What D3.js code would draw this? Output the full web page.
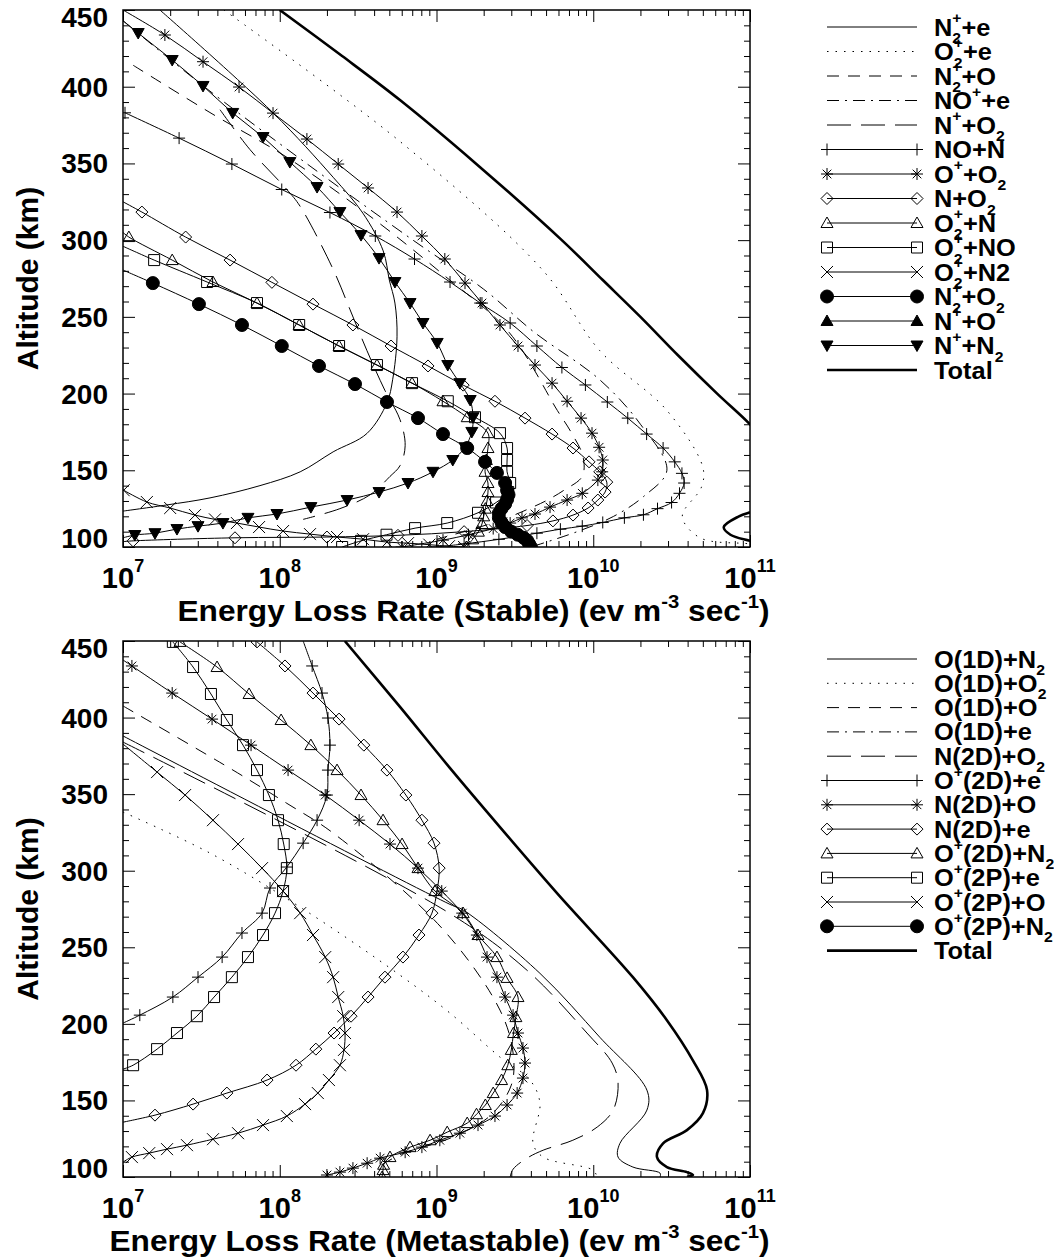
<!DOCTYPE html>
<html>
<head>
<meta charset="utf-8">
<script src="https://cdn.jsdelivr.net/npm/d3@7"></script>
<style>
  body { margin: 0; background: #fff; }
  svg { display: block; }
  text { font-family: "Liberation Sans", Arial, Helvetica, sans-serif; font-weight: bold; fill: #000; white-space: pre; }
</style>
</head>
<body>
<svg id="chart" width="1054" height="1259"></svg>
<script>
// ---------------------------------------------------------------------------
// Data: each profile is a list of [altitude (km), energy loss rate (eV m^-3 s^-1)]
// Points lying on the frame (rate 1e7 or altitude 450) only anchor the line;
// markers are drawn at the interior points.
// ---------------------------------------------------------------------------
const altitudeTicks = [100, 150, 200, 250, 300, 350, 400, 450];
const altitudeTickLabels = ["100", "150", "200", "250", "300", "350", "400", "450"];
const rateTicks = [1e7, 1e8, 1e9, 1e10, 1e11];
const rateTickLabels = ["10{^7}", "10{^8}", "10{^9}", "10{^10}", "10{^11}"];

// ---- Stable species ----
const n2pE = [[450,1.72e7],[383,9.06e7],[341,2.19e8],[317.6,3.39e8],[293,4.57e8],[274,5.0e8],[259,5.43e8],[237,5.6e8],[209,5.25e8],[194,4.83e8],[174,3.6e8],[162,2.19e8],[149,1.35e8],[140,7.48e7],[132,3.59e7],[127.4,1.9e7],[123.4,1.0e7]];
const o2pE = [[450,4.4e7],[364,5.9e8],[280,4.8e9],[228,1.1e10],[189,2.95e10],[152,5.0e10],[139,4.9e10],[120,3.7e10],[106,4.8e10],[102,1.0e11],[100,1.3e11]];
const n2pO = [[414,1.16e7],[382,3.75e7],[354,1.11e8],[313,4.07e8],[276,1.15e9],[240,2.9e9],[189,5.9e9],[174,7.3e9],[159,8.6e9],[146,8.5e9],[137,6.5e9],[130.6,5.1e9],[126,4.1e9],[117,2.5e9],[105,1.0e9]];
const nopE = [[443,1.0e7],[400,3.3e7],[350,1.48e8],[300,7.08e8],[268,2.0e9],[240,4.2e9],[209,1.1e10],[180,2.0e10],[150,2.95e10],[133,2.1e10],[120,1.35e10],[110,7.9e9],[100,4.0e9]];
const npO2 = [[385,4.16e7],[359,6.46e7],[333,1.11e8],[322,1.35e8],[281,2.19e8],[255,2.8e8],[228,3.6e8],[202,4.69e8],[183,5.85e8],[166,6.31e8],[153,5.85e8],[146,5.05e8],[134,3.77e8],[125,2.42e8],[118,1.41e8]];
const noN = [[383,1.03e7],[366.5,2.28e7],[349.6,4.95e7],[333,1.03e8],[318,2.09e8],[302.7,4.07e8],[287.7,7.24e8],[272.7,1.22e9],[259,1.9e9],[246,2.95e9],[231,4.37e9],[217,6.31e9],[205.6,8.91e9],[194.5,1.23e10],[184,1.66e10],[173.6,2.19e10],[164.5,2.79e10],[155.5,3.31e10],[148,3.68e10],[141.7,3.8e10],[135,3.55e10],[129,3.16e10],[125,2.57e10],[121,2.09e10],[119,1.58e10],[116,1.15e10],[113.6,8.51e9],[111.6,6.17e9],[109,4.37e9],[105,2.5e9],[102,1.5e9],[100,1.0e9]];
const opO2 = [[450,1.0e7],[433.7,1.85e7],[416.3,3.24e7],[399.8,5.5e7],[382.8,9.06e7],[365.9,1.49e8],[349.6,2.36e8],[334,3.66e8],[318.3,5.6e8],[302.7,8.07e8],[287.7,1.13e9],[272,1.52e9],[259,1.95e9],[244.7,2.54e9],[231,3.31e9],[218.6,4.25e9],[206.8,5.46e9],[195,6.81e9],[184,8.36e9],[174.2,9.82e9],[165,1.09e10],[156.7,1.15e10],[149,1.14e10],[143.6,1.07e10],[135,8.51e9],[130.6,6.81e9],[126,5.3e9],[121.5,4.25e9],[119,3.51e9],[115.6,2.95e9],[112,2.3e9],[108,1.6e9],[104.5,1.1e9],[100,6e8]];
const nO2 = [[325,1.0e7],[318.3,1.32e7],[302,2.51e7],[287,4.82e7],[272.5,8.91e7],[258.3,1.63e8],[244.7,2.93e8],[231,5.13e8],[218,8.83e8],[205.5,1.48e9],[195,2.36e9],[184,3.67e9],[173.6,5.46e9],[164.5,7.43e9],[155.5,9.4e9],[149,1.1e10],[142.3,1.22e10],[135.8,1.19e10],[130.6,1.07e10],[125.4,9.27e9],[120.8,7.43e9],[117,5.53e9],[114,3.78e9],[110,1.5e9],[107.6,5.68e8],[106.5,2.0e8],[106,5.18e7],[104,1.16e7],[103.5,1.0e7]];
const o2pN = [[305,1.0e7],[302,1.09e7],[287,2.06e7],[272.7,3.75e7],[259,7.16e7],[244.7,1.33e8],[231,2.39e8],[218.6,4.17e8],[206.8,6.98e8],[195,1.1e9],[184.6,1.57e9],[174.2,2.13e9],[164.5,2.13e9],[156.7,2.08e9],[149,2.04e9],[141.7,2.13e9],[135.8,2.13e9],[130,2.1e9],[125,2.05e9],[120,2.0e9],[115,1.95e9],[110,1.85e9],[105,1.7e9],[100,1.55e9]];
const o2pNO = [[296,1.0e7],[287,1.58e7],[272.7,3.44e7],[259,7.16e7],[244.7,1.33e8],[231,2.39e8],[218.6,4.17e8],[206.8,6.98e8],[195,1.18e9],[184.6,1.76e9],[174.2,2.54e9],[164.5,2.82e9],[156.7,2.82e9],[149,2.82e9],[141.7,2.95e9],[135.8,2.87e9],[129,2.4e9],[122.3,1.84e9],[115.6,1.17e9],[112.3,7.3e8],[108,4.8e8],[104,3.3e8],[100,2.5e8]];
const o2pN2 = [[137,1.01e7],[129.3,1.42e7],[125.4,2.0e7],[120.8,2.88e7],[118,3.86e7],[115.6,5.33e7],[113,7.38e7],[110.4,1.05e8],[108.4,1.56e8],[106.5,2.32e8],[105.1,3.4e8],[103.2,4.83e8],[102.5,6.58e8],[101.5,9e8],[100.5,1.2e9],[100,1.5e9]];
const n2pO2 = [[280.5,1.0e7],[272,1.55e7],[258.3,3.05e7],[244.7,5.74e7],[231,1.03e8],[218,1.78e8],[206.2,3.02e8],[194.5,4.83e8],[184,7.62e8],[173.6,1.1e9],[164.5,1.57e9],[155.5,2.04e9],[148.3,2.43e9],[141.7,2.74e9],[137,2.82e9],[134,2.88e9],[131,2.82e9],[128,2.74e9],[125,2.6e9],[122,2.5e9],[119,2.5e9],[116,2.6e9],[113,2.74e9],[110,3.0e9],[108,3.3e9],[106,3.6e9],[104,3.8e9],[102,3.9e9],[100,4.0e9]];
const npO = [];
const npN2 = [[443,1.0e7],[435,1.25e7],[417.4,2.06e7],[400.5,3.24e7],[382.9,5.01e7],[367.2,7.82e7],[350.9,1.16e8],[334.6,1.73e8],[318.3,2.42e8],[303.3,3.3e8],[288.3,4.3e8],[272.7,5.43e8],[259,6.78e8],[246,8.2e8],[233,1.01e9],[218.6,1.18e9],[206.8,1.41e9],[195.8,1.64e9],[184.6,1.71e9],[175,1.68e9],[165,1.52e9],[156.7,1.27e9],[149,9.5e8],[141.7,6.58e8],[135.8,4.3e8],[130.6,2.69e8],[126,1.58e8],[121.5,9.6e7],[119,6.27e7],[115.6,4.34e7],[113.6,3.01e7],[111.7,2.21e7],[109,1.6e7],[107.8,1.19e7],[106,1.0e7]];
const totalStable = [[450,1.0e8],[420,2.5e8],[391,5.9e8],[350,1.78e9],[300,6.3e9],[274,1.15e10],[250,2.0e10],[225,3.47e10],[200,6.17e10],[180,1.0e11],[160,1.5e11],[140,1.7e11],[125,1.15e11],[120,8.5e10],[113,6.8e10],[108,7.5e10],[104,1.0e11],[100,1.4e11]];

// ---- Metastable species ----
const o1dN2 = [[388,1.0e7],[278,1.22e9],[274.3,1.48e9],[233,4.57e9],[191.3,1.1e10],[156.7,2.2e10],[143.7,2.2e10],[122,1.48e10],[113,1.44e10],[106.5,1.79e10],[102.5,2.67e10],[100,2.67e10]];
const o1dO2 = [[338.3,1.0e7],[311.5,3.59e7],[276.2,1.35e8],[231.8,5.85e8],[207,1.22e9],[178.3,2.54e9],[163.3,3.95e9],[148.3,4.57e9],[122,4.13e9],[113,4.79e9],[104.5,9.95e9],[100,1.06e10]];
const o1dO = [[407.6,1.0e7],[365.7,5.03e7],[344,1.11e8],[324.6,2.19e8],[262.6,1.08e9],[209,2.54e9],[181,3.08e9],[160,3.0e9],[140,2.2e9],[125,1.2e9],[115,6e8],[105,4e8]];
const o1dE = [];
const n2dO2 = [[384,1.0e7],[272,1.22e9],[235,3.78e9],[194,9.12e9],[174.4,1.32e10],[161.4,1.44e10],[143.7,1.34e10],[132.6,1.06e10],[124,7.41e9],[117.5,4.79e9],[112.3,3.78e9],[105.1,3.08e9],[100,2.95e9]];
const op2dE = [[450,1.41e8],[433.7,1.61e8],[416,1.86e8],[399.7,2.03e8],[382,2.09e8],[365.7,2.03e8],[349.4,2.0e8],[333,1.73e8],[318,1.41e8],[302.4,1.11e8],[288.7,8.67e7],[272.3,7.71e7],[259.3,5.74e7],[243.6,4.29e7],[230.5,3.01e7],[217.5,2.08e7],[205.7,1.28e7],[200.5,1.0e7]];
const n2dO = [[437.6,1.0e7],[433.7,1.14e7],[416,2.06e7],[399,3.7e7],[382,6.56e7],[365.7,1.13e8],[349.4,1.95e8],[333,3.21e8],[317.4,5.05e8],[301.7,7.62e8],[286.7,1.08e9],[272.3,1.46e9],[258,1.81e9],[243.6,2.1e9],[230.5,2.43e9],[217.5,2.74e9],[205.7,3.08e9],[194,3.31e9],[184.2,3.56e9],[174.4,3.67e9],[164.6,3.56e9],[154.8,3.27e9],[147,2.82e9],[139.8,2.36e9],[133.9,1.84e9],[128.6,1.41e9],[124,1.05e9],[119.5,8.07e8],[116.2,6.31e8],[112.3,4.37e8],[109,3.61e8],[105.8,2.93e8],[103.2,2.42e8],[101.3,2.0e8]];
const n2dE = [[449.4,7.16e7],[433.7,1.08e8],[416,1.63e8],[399,2.39e8],[382,3.44e8],[365.7,4.83e8],[349.4,6.38e8],[333,8.07e8],[318,9.64e8],[301.7,1.04e9],[287.4,1.01e9],[272.3,9.35e8],[258,7.73e8],[243.6,6.11e8],[230.5,4.69e8],[217.5,3.66e8],[205,2.85e8],[194,2.22e8],[183.5,1.7e8],[173,1.27e8],[163.3,8.3e7],[154.8,4.6e7],[147.6,2.8e7],[140.4,1.6e7],[135.8,1.0e7]];
const op2dN2 = [[449.4,2.31e7],[433,3.98e7],[415.4,6.37e7],[398.4,1.02e8],[382,1.58e8],[365.7,2.32e8],[349.4,3.3e8],[333,4.56e8],[317.4,6.03e8],[301.7,7.62e8],[286.7,9.77e8],[272.3,1.48e9],[258,1.84e9],[243.6,2.43e9],[230,2.82e9],[217.5,3.31e9],[204.4,3.21e9],[194,3.1e9],[183,3.0e9],[173,2.85e9],[163.3,2.6e9],[154.8,2.3e9],[147,2.05e9],[141,1.8e9],[135.2,1.57e9],[129.3,1.17e9],[124,9.1e8],[119.5,6.78e8],[113,5.05e8],[108,4.6e8],[104.5,4.56e8],[100,4.5e8]];
const op2pE = [[449.4,2.08e7],[433,2.8e7],[415.4,3.64e7],[398.4,4.6e7],[382,5.83e7],[365.7,7.16e7],[349.4,8.53e7],[333,9.75e7],[317.4,1.06e8],[301.7,1.11e8],[286.7,1.05e8],[272.3,9.33e7],[258,7.82e7],[243.6,6.27e7],[230.5,4.95e7],[217.5,3.81e7],[205,2.96e7],[194,2.21e7],[183.5,1.65e7],[173,1.16e7],[170.4,1.0e7]];
const op2pO = [[382.7,1.0e7],[364.4,1.65e7],[349.4,2.49e7],[333,3.75e7],[317.4,5.42e7],[301.7,7.71e7],[286.7,1.05e8],[272.3,1.35e8],[258,1.63e8],[243.6,1.95e8],[230.5,2.19e8],[217.5,2.36e8],[205,2.54e8],[194,2.61e8],[183,2.57e8],[173,2.42e8],[163.3,2.06e8],[154.8,1.75e8],[147.6,1.45e8],[139.8,1.11e8],[133.9,7.82e7],[128.6,5.42e7],[124.7,3.75e7],[120.8,2.56e7],[118.2,1.91e7],[115.6,1.47e7],[113,1.14e7],[109.7,1.0e7]];
const op2pN2 = [];
const totalMeta = [[450,2.6e8],[407,5.85e8],[367,1.22e9],[328.5,2.54e9],[285.4,5.87e9],[230.5,1.79e10],[202.4,2.95e10],[176,4.33e10],[156.7,5.32e10],[141.7,5.01e10],[130.6,3.96e10],[122,2.79e10],[113,2.55e10],[106.5,2.95e10],[103.2,3.96e10],[101.3,4.33e10],[100,3.96e10]];

// ---------------------------------------------------------------------------
// Series descriptions (labels use {_sub^sup} for stacked scripts)
// ---------------------------------------------------------------------------
const stableSeries = [
  { label: "N{_2^+}+e",      data: n2pE,  line: "solid" },
  { label: "O{_2^+}+e",      data: o2pE,  line: "dot" },
  { label: "N{_2^+}+O",      data: n2pO,  line: "dash" },
  { label: "NO{^+}+e",       data: nopE,  line: "dashdot" },
  { label: "N{^+}+O{_2}",    data: npO2,  line: "longdash" },
  { label: "NO+N",           data: noN,   line: "solid", marker: "plus" },
  { label: "O{^+}+O{_2}",    data: opO2,  line: "solid", marker: "asterisk" },
  { label: "N+O{_2}",        data: nO2,   line: "solid", marker: "diamond" },
  { label: "O{_2^+}+N",      data: o2pN,  line: "solid", marker: "triangle" },
  { label: "O{_2^+}+NO",     data: o2pNO, line: "solid", marker: "square" },
  { label: "O{_2^+}+N2",     data: o2pN2, line: "solid", marker: "cross" },
  { label: "N{_2^+}+O{_2}",  data: n2pO2, line: "solid", marker: "circle" },
  { label: "N{^+}+O",        data: npO,   line: "solid", marker: "triUp" },
  { label: "N{^+}+N{_2}",    data: npN2,  line: "solid", marker: "triDown" },
  { label: "Total",          data: totalStable, line: "thick" }
];
const metaSeries = [
  { label: "O(1D)+N{_2}",     data: o1dN2,  line: "solid" },
  { label: "O(1D)+O{_2}",     data: o1dO2,  line: "dot" },
  { label: "O(1D)+O",         data: o1dO,   line: "dash" },
  { label: "O(1D)+e",         data: o1dE,   line: "dashdot" },
  { label: "N(2D)+O{_2}",     data: n2dO2,  line: "longdash" },
  { label: "O{^+}(2D)+e",     data: op2dE,  line: "solid", marker: "plus" },
  { label: "N(2D)+O",         data: n2dO,   line: "solid", marker: "asterisk" },
  { label: "N(2D)+e",         data: n2dE,   line: "solid", marker: "diamond" },
  { label: "O{^+}(2D)+N{_2}", data: op2dN2, line: "solid", marker: "triangle" },
  { label: "O{^+}(2P)+e",     data: op2pE,  line: "solid", marker: "square" },
  { label: "O{^+}(2P)+O",     data: op2pO,  line: "solid", marker: "cross" },
  { label: "O{^+}(2P)+N{_2}", data: op2pN2, line: "solid", marker: "circle" },
  { label: "Total",           data: totalMeta, line: "thick" }
];

// ---------------------------------------------------------------------------
// Drawing
// ---------------------------------------------------------------------------
const svg = d3.select("#chart");
const plotLeft = 123, plotRight = 750;
const x = d3.scaleLog().domain([1e7, 1e11]).range([plotLeft, plotRight]);

const dashes = {
  solid: null, thick: null,
  dot: "1.5,7",
  dash: "12,9",
  dashdot: "12,6,2,6",
  longdash: "24,10"
};

function markerPath(type) {
  const r = 6;
  switch (type) {
    case "plus": return `M${-r},0H${r}M0,${-r}V${r}`;
    case "asterisk": { const d = r * 0.72; return `M${-r},0H${r}M0,${-r}V${r}M${-d},${-d}L${d},${d}M${-d},${d}L${d},${-d}`; }
    case "diamond": return `M0,${-r}L${r},0L0,${r}L${-r},0Z`;
    case "triangle": case "triUp": return `M${-r},${r * 0.75}L0,${-r}L${r},${r * 0.75}Z`;
    case "triDown": return `M${-r},${-r * 0.75}L0,${r}L${r},${-r * 0.75}Z`;
    case "square": return `M-5.5,-5.5H5.5V5.5H-5.5Z`;
    case "cross": return `M${-r},${-r}L${r},${r}M${-r},${r}L${r},${-r}`;
    case "circle": return d3.symbol(d3.symbolCircle, Math.PI * 6.5 * 6.5)();
  }
  return "";
}
const filledMarkers = new Set(["circle", "triUp", "triDown"]);

function drawMarker(g, type, px, py) {
  g.append("path")
    .attr("d", markerPath(type))
    .attr("transform", `translate(${px},${py})`)
    .attr("fill", filledMarkers.has(type) ? "#000" : "none")
    .attr("stroke", "#000")
    .attr("stroke-width", 1);
}

// Rich text with stacked sub/superscripts, e.g. "N{_2^+}+e"
function richText(parent, str, opt) {
  const size = opt.size;
  const g = parent.append("g");
  const inner = g.append("g");
  let cx = 0;
  const parts = str.split(/(\{[^}]*\})/).filter(s => s.length);
  for (const p of parts) {
    if (p[0] === "{") {
      const body = p.slice(1, -1);
      const sub = (body.match(/_([^\^]*)/) || [])[1];
      const sup = (body.match(/\^([^_]*)/) || [])[1];
      let w = 0;
      const ss = size * (opt.scriptScale || 0.64);
      if (sub) {
        const t = inner.append("text").attr("x", cx).attr("y", size * (opt.subDrop || 0.33)).attr("font-size", ss).text(sub);
        w = Math.max(w, t.node().getComputedTextLength());
      }
      if (sup) {
        const t = inner.append("text").attr("x", cx).attr("y", -size * (opt.supRise || 0.42)).attr("font-size", ss).text(sup);
        w = Math.max(w, t.node().getComputedTextLength());
      }
      cx += w;
    } else {
      const t = inner.append("text").attr("x", cx).attr("y", 0).attr("font-size", size).text(p);
      cx += t.node().getComputedTextLength();
    }
  }
  const sx = opt.width ? opt.width / cx : (opt.sx || 1);
  const shift = opt.anchor === "middle" ? -cx / 2 : opt.anchor === "end" ? -cx : 0;
  inner.attr("transform", `scale(${sx},1) translate(${shift},0)`);
  g.attr("transform", `translate(${opt.x},${opt.y})` + (opt.rotate ? ` rotate(${opt.rotate})` : ""));
  return g;
}

function drawPanel(def, idx) {
  const y = d3.scaleLinear().domain([100, 450]).range([def.bottom, def.top]);
  const root = svg.append("g");
  const clipId = "clip" + idx;
  root.append("clipPath").attr("id", clipId)
    .append("rect").attr("x", plotLeft).attr("y", def.top)
    .attr("width", plotRight - plotLeft).attr("height", def.bottom - def.top);

  const plot = root.append("g").attr("clip-path", `url(#${clipId})`);
  const line = d3.line()
    .x(d => x(d[1])).y(d => y(d[0]))
    .curve(d3.curveCatmullRom.alpha(0.5));

  def.series.forEach(s => {
    if (!s.data.length) return;
    plot.append("path")
      .attr("d", line(s.data))
      .attr("fill", "none")
      .attr("stroke", "#000")
      .attr("stroke-width", s.line === "thick" ? 2.6 : 1)
      .attr("stroke-dasharray", dashes[s.line]);
    if (s.marker) {
      const mg = plot.append("g");
      s.data.filter(d => d[1] > 1e7 && d[0] < 450)
        .forEach(d => drawMarker(mg, s.marker, x(d[1]), y(d[0])));
    }
  });

  // axes: minor and major ticks on all four sides, pointing inward
  const minorX = [];
  for (let e = 7; e < 11; e++) for (let m = 2; m <= 9; m++) minorX.push(m * Math.pow(10, e));
  const minorY = d3.range(110, 450, 10).filter(v => v % 50 !== 0);
  const noDomain = g => g.select(".domain").remove();
  const tickStyle = g => g.selectAll("line").attr("stroke", "#000").attr("stroke-width", 1);

  const sides = [
    [d3.axisBottom, `translate(0,${def.bottom})`, x, minorX, rateTicks],
    [d3.axisTop, `translate(0,${def.top})`, x, minorX, rateTicks],
    [d3.axisLeft, `translate(${plotLeft},0)`, y, minorY, altitudeTicks],
    [d3.axisRight, `translate(${plotRight},0)`, y, minorY, altitudeTicks]
  ];
  sides.forEach(([axisFn, tr, sc, minor, major]) => {
    root.append("g").attr("transform", tr)
      .call(axisFn(sc).tickValues(minor).tickSize(-6).tickFormat(""))
      .call(noDomain).call(tickStyle);
    root.append("g").attr("transform", tr)
      .call(axisFn(sc).tickValues(major).tickSize(-12).tickFormat(""))
      .call(noDomain).call(tickStyle);
  });

  root.append("rect")
    .attr("x", plotLeft).attr("y", def.top)
    .attr("width", plotRight - plotLeft).attr("height", def.bottom - def.top)
    .attr("fill", "none").attr("stroke", "#000").attr("stroke-width", 1.5);

  // tick labels (the end labels sit slightly inside the axis range)
  altitudeTicks.forEach((v, i) => {
    const nudge = v === 450 ? 7 : v === 100 ? -9 : 0;
    root.append("text")
      .attr("x", 108).attr("y", y(v) + 10 + nudge)
      .attr("text-anchor", "end").attr("font-size", 28)
      .text(altitudeTickLabels[i]);
  });
  rateTicks.forEach((v, i) => {
    richText(root, rateTickLabels[i], { x: x(v), y: def.bottom + 41, size: 29, anchor: "middle", supRise: 0.55, scriptScale: 0.62 });
  });

  // axis titles
  richText(root, def.title, { x: (plotLeft + plotRight) / 2 + def.titleShift, y: def.bottom + 74, size: 30, anchor: "middle", width: def.titleWidth, supRise: 0.42 });
  richText(root, "Altitude (km)", { x: 38, y: (def.top + def.bottom) / 2, size: 30, anchor: "middle", rotate: -90 });

  // legend
  const lg = root.append("g");
  def.series.forEach((s, i) => {
    const ly = def.legendTop + i * def.legendStep;
    lg.append("line")
      .attr("x1", 827).attr("x2", 917).attr("y1", ly).attr("y2", ly)
      .attr("stroke", "#000")
      .attr("stroke-width", s.line === "thick" ? 2.6 : 1)
      .attr("stroke-dasharray", dashes[s.line]);
    if (s.marker) {
      drawMarker(lg, s.marker, 827, ly);
      drawMarker(lg, s.marker, 917, ly);
    }
    richText(lg, s.label, { x: 934, y: ly + 8.5, size: 23.5, anchor: "start", sx: 1.08, supRise: 0.52, subDrop: 0.32, scriptScale: 0.62 });
  });
}

const panels = [
  { top: 10, bottom: 547, series: stableSeries,
    title: "Energy Loss Rate (Stable) (ev m{^-3} sec{^-1})", titleWidth: 592, titleShift: 37,
    legendTop: 27, legendStep: 24.5 },
  { top: 641, bottom: 1177, series: metaSeries,
    title: "Energy Loss Rate (Metastable) (ev m{^-3} sec{^-1})", titleWidth: 660, titleShift: 3,
    legendTop: 659, legendStep: 24.3 }
];
panels.forEach(drawPanel);
</script>
</body>
</html>
